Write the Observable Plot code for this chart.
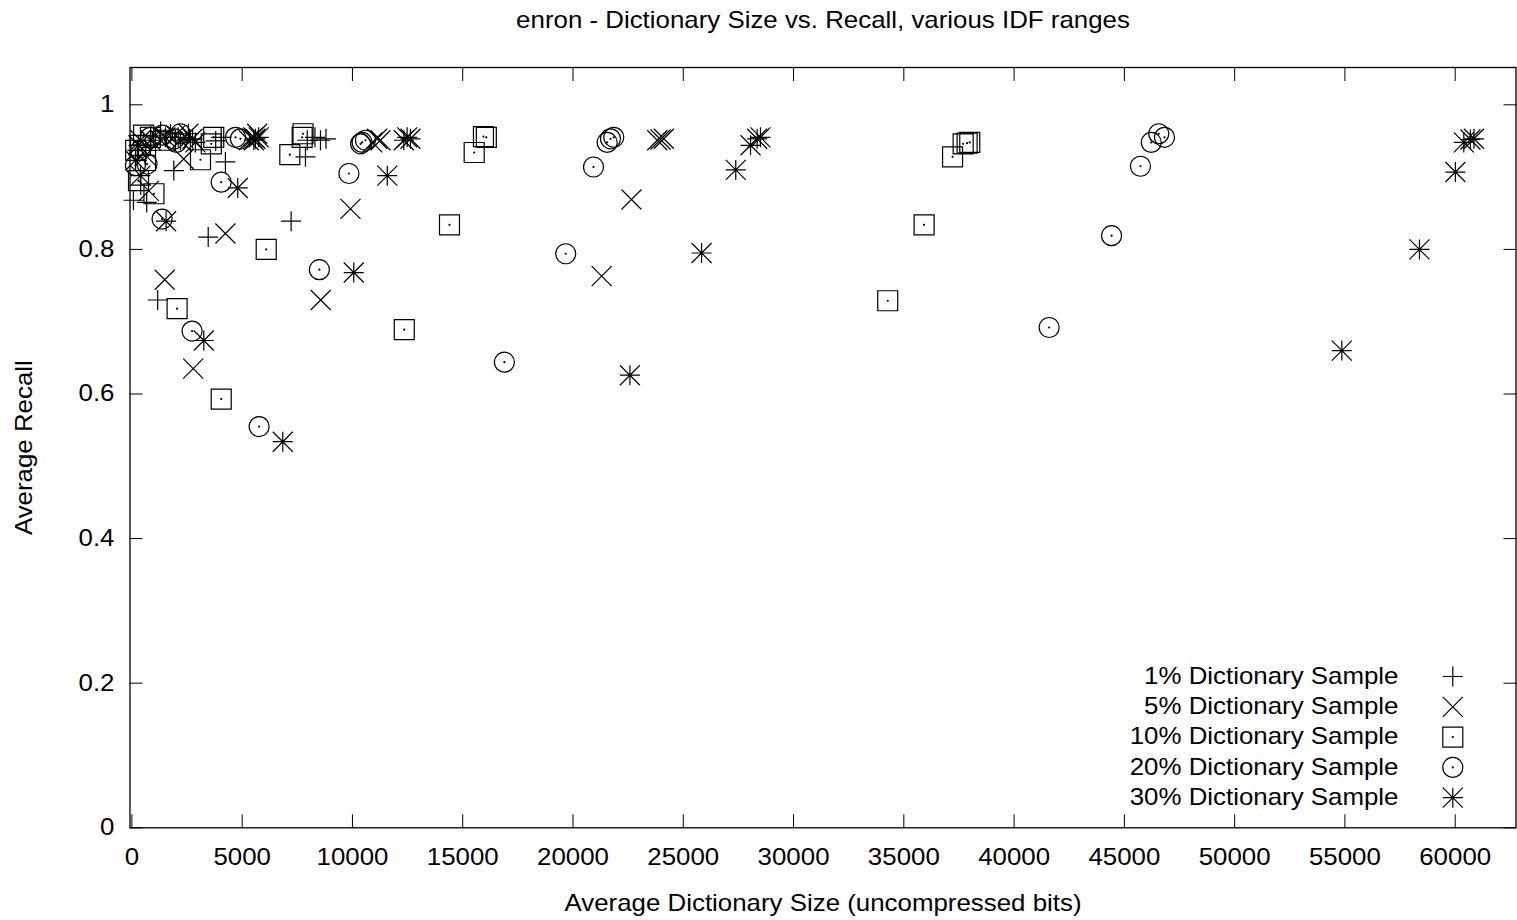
<!DOCTYPE html>
<html><head><meta charset="utf-8">
<script src="https://cdn.jsdelivr.net/npm/d3@7"></script>
<script src="https://cdn.jsdelivr.net/npm/@observablehq/plot@0.6"></script>
<style>body{margin:0;background:#fff;}</style>
</head><body><div id="chart"></div>
<script>
const seriesNames = ["1% Dictionary Sample","5% Dictionary Sample","10% Dictionary Sample","20% Dictionary Sample","30% Dictionary Sample"];

const size1   = [70, 670, 400, 250, 850, 1300, 1750, 2650, 1170, 1900, 2100, 3460, 4240, 3800, 4050, 7220, 7870, 7950, 8300, 8550, 8800];
const recall1 = [.868,.865,.889,.937,.957,.963,.960,.952,.730,.909,.955,.817,.921,.950,.955,.839,.928,.951,.955,.951,.953];

const size5   = [160, 390, 770, 1300, 1980, 2350, 1490, 2780, 4240, 5300, 5500, 5680, 8560, 9910, 10900, 11120, 11270, 21300, 22650, 23820, 23970, 24120];
const recall5 = [.923,.951,.881,.951,.958,.925,.758,.635,.822,.951,.955,.960,.730,.856,.948,.953,.951,.763,.869,.951,.952,.953];

const size10   = [170, 390, 620, 300, 530, 840, 1520, 1000, 2050, 3110, 3600, 3710, 4050, 6090, 7160, 7720, 7760, 12350, 14400, 15520, 15940, 16070, 34270, 35920, 37210, 37690, 37870, 37990];
const recall10 = [.937,.944,.923,.895,.958,.955,.951,.877,.718,.924,.946,.955,.593,.800,.931,.955,.960,.689,.834,.934,.956,.955,.729,.834,.928,.946,.947,.948];

const size20   = [160, 690, 390, 840, 1390, 1930, 2020, 2200, 1370, 2730, 4050, 4700, 4920, 5770, 8500, 9840, 10370, 10440, 10590, 16890, 19670, 20930, 21550, 21700, 21850, 41590, 44420, 45730, 46220, 46560, 46820];
const recall20 = [.916,.918,.937,.955,.958,.953,.948,.960,.842,.687,.893,.955,.953,.555,.772,.905,.946,.948,.951,.644,.794,.914,.948,.953,.955,.692,.819,.915,.948,.960,.955];

const size30   = [300, 620, 850, 1520, 2200, 2560, 2750, 2880, 390, 1550, 3260, 4800, 5530, 5600, 5750, 6840, 10060, 11580, 12330, 12480, 12630, 22580, 25830, 27380, 28050, 28350, 28500, 54860, 58380, 60010, 60390, 60690, 60850];
const recall30 = [.944,.930,.951,.955,.951,.960,.953,.948,.902,.839,.674,.885,.951,.953,.955,.534,.768,.902,.951,.955,.953,.626,.795,.910,.944,.953,.955,.660,.800,.907,.948,.952,.953];

const xTicks = [0,5000,10000,15000,20000,25000,30000,35000,40000,45000,50000,55000,60000];
const yTicks = [0,0.2,0.4,0.6,0.8,1];
const yTickLabels = ["0","0.2","0.4","0.6","0.8","1"];
const titleText = "enron - Dictionary Size vs. Recall, various IDF ranges";
const xLabelText = "Average Dictionary Size (uncompressed bits)";
const yLabelText = "Average Recall";

const sizes = [size1, size5, size10, size20, size30];
const recalls = [recall1, recall5, recall10, recall20, recall30];
const rows = seriesNames.flatMap((s, i) => sizes[i].map((x, j) => ({series: s, size: x, recall: recalls[i][j]})));

function dotC(ctx){ ctx.moveTo(0.5,0); ctx.arc(0,0,0.5,0,2*Math.PI); }
function makeSymbol(kind){
  return {draw(ctx, size){
    const r = Math.sqrt(size/Math.PI);
    if (kind === "plus" || kind === "star") { ctx.moveTo(-r,0); ctx.lineTo(r,0); ctx.moveTo(0,-r); ctx.lineTo(0,r); }
    if (kind === "times" || kind === "star") { ctx.moveTo(-r,-r); ctx.lineTo(r,r); ctx.moveTo(-r,r); ctx.lineTo(r,-r); }
    if (kind === "square") { ctx.moveTo(-r,-r); ctx.lineTo(r,-r); ctx.lineTo(r,r); ctx.lineTo(-r,r); ctx.closePath(); dotC(ctx); }
    if (kind === "circle") { ctx.moveTo(r,0); ctx.arc(0,0,r,0,2*Math.PI); dotC(ctx); }
    if (kind === "star") { dotC(ctx); }
  }};
}
const symbols = ["plus","times","square","circle","star"].map(makeSymbol);

const legendDy = [-151.3, -121, -90.7, -60.4, -30.1];

const marks = [
  Plot.frame({stroke: "black", strokeWidth: 1.3}),
  Plot.axisX(xTicks, {anchor: "bottom", tickSize: -13, tickPadding: 34, tickFormat: d => String(d), label: null}),
  Plot.axisX(xTicks, {anchor: "top", tickSize: -13, tickFormat: () => "", label: null}),
  Plot.axisY(yTicks, {anchor: "left", tickSize: -13, tickPadding: 28.5, tickFormat: (d) => yTickLabels[yTicks.indexOf(d)], label: null}),
  Plot.axisY(yTicks, {anchor: "right", tickSize: -13, tickFormat: () => "", label: null}),
];
seriesNames.forEach((s, i) => {
  marks.push(Plot.dot(rows.filter(d => d.series === s), {x: "size", y: "recall", r: 10, symbol: symbols[i], stroke: "black", strokeWidth: 1.2, fill: "none"}));
});
seriesNames.forEach((s, i) => {
  marks.push(Plot.text([s], {text: d => d, frameAnchor: "bottom-right", dx: -117.5, dy: legendDy[i], textAnchor: "end", lineAnchor: "middle", fill: "black"}));
  marks.push(Plot.dot([s], {frameAnchor: "bottom-right", dx: -63.2, dy: legendDy[i], r: 10, symbol: symbols[i], stroke: "black", strokeWidth: 1.2, fill: "none"}));
});
marks.push(Plot.text([titleText], {text: d => d, frameAnchor: "top", dy: -46.5, textAnchor: "middle", lineAnchor: "middle", fill: "black"}));
marks.push(Plot.text([xLabelText], {text: d => d, frameAnchor: "bottom", dy: 75.7, textAnchor: "middle", lineAnchor: "middle", fill: "black"}));
marks.push(Plot.text([yLabelText], {text: d => d, frameAnchor: "left", dx: -105, rotate: -90, textAnchor: "middle", lineAnchor: "middle", fill: "black"}));

const chart = Plot.plot({
  width: 1517, height: 920,
  marginLeft: 129.5, marginRight: 1.5, marginTop: 67, marginBottom: 92.7,
  x: {domain: [-86, 62757]},
  y: {domain: [0, 1.0516]},
  style: {fontFamily: "'Liberation Sans', Arial, Helvetica, sans-serif", fontSize: "23px", background: "white", color: "black"},
  marks
});
// gnuplot's text is horizontally wider than its height suggests: stretch each label along its baseline
chart.querySelectorAll("text").forEach(t => {
  const tr = t.getAttribute("transform");
  if (tr) t.setAttribute("transform", tr + " scale(1.125,1)");
  else {
    const x = t.getAttribute("x") || 0;
    t.removeAttribute("x");
    t.setAttribute("transform", `translate(${x},0) scale(1.125,1)`);
  }
});
document.getElementById("chart").append(chart);
</script>
</body></html>
